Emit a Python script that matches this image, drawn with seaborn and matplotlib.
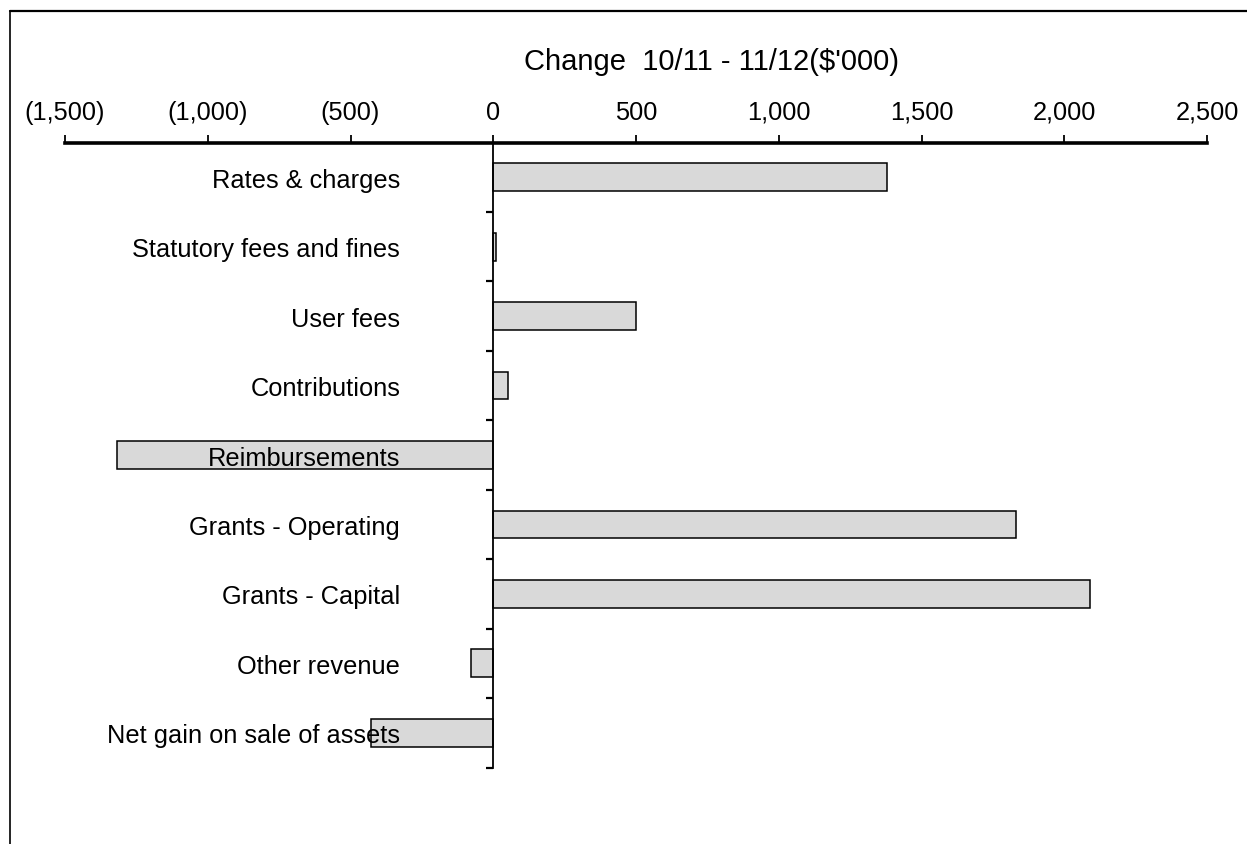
import matplotlib
matplotlib.use("Agg")
import matplotlib.pyplot as plt
from matplotlib.lines import Line2D
from matplotlib.ticker import FuncFormatter, FixedLocator
import seaborn as sns
import numpy as np

# Revenue categories and change between 2010/11 and 2011/12 ($'000)
categories = [
    "Rates & charges",
    "Statutory fees and fines",
    "User fees",
    "Contributions",
    "Reimbursements",
    "Grants - Operating",
    "Grants - Capital",
    "Other revenue",
    "Net gain on sale of assets",
]
change = [1380, 8, 500, 52, -1317, 1832, 2091, -77, -427]
x_ticks = [-1500, -1000, -500, 0, 500, 1000, 1500, 2000, 2500]
title = "Change  10/11 - 11/12($'000)"

sns.set_style("white")
plt.rcParams["font.family"] = ["Liberation Sans", "DejaVu Sans"]

W, H = 1247, 845
FS = 18.3
fig = plt.figure(figsize=(W / 100, H / 100), dpi=100)
ax = fig.add_axes([65 / W, 1 - 768.5 / H, (1207 - 65) / W, (768.5 - 143.5) / H])

sns.barplot(x=change, y=categories, orient="h", color="#d9d9d9",
            edgecolor="black", linewidth=1.1, width=0.4, saturation=1, ax=ax)
for bar in ax.patches:
    bar.set_zorder(1)

ax.set_xlim(x_ticks[0], x_ticks[-1])
ax.set_ylim(len(categories) - 0.5, -0.5)

# Value axis on top, formatted accounting style
ax.xaxis.tick_top()
ax.xaxis.set_label_position("top")
ax.set_xticks(x_ticks)
ax.xaxis.set_major_formatter(FuncFormatter(
    lambda v, p: f"({abs(v):,.0f})" if v < 0 else f"{v:,.0f}"))
ax.tick_params(axis="x", which="major", direction="out", length=5.5,
               width=1.3, pad=8, labelsize=FS, colors="black")
ax.set_xlabel("")
ax.set_ylabel("")

# Category axis sits on the zero line, tick marks between categories
for s in ["right", "bottom"]:
    ax.spines[s].set_visible(False)
ax.spines["top"].set_linewidth(2.6)
ax.spines["top"].set_color("black")
ax.spines["left"].set_position(("data", 0))
ax.spines["left"].set_linewidth(1.3)
ax.spines["left"].set_color("black")
ax.spines["left"].set_zorder(4)
ax.yaxis.set_minor_locator(FixedLocator(np.arange(0.5, len(categories), 1.0)))
ax.tick_params(axis="y", which="minor", direction="out", length=5, width=1.6,
               color="black", left=True)
ax.tick_params(axis="y", which="major", length=0, pad=67, labelsize=FS,
               colors="black")
ax.yaxis.set_zorder(5)

fig.text(712 / W, 1 - 62 / H, title, ha="center", va="center",
         fontsize=21, color="black")

# Outer frame lines
fig.add_artist(Line2D([9.5 / W, 1], [1 - 12 / H, 1 - 12 / H],
                      transform=fig.transFigure, color="black", lw=1.6))
fig.add_artist(Line2D([9.5 / W, 9.5 / W], [0, 1 - 12 / H],
                      transform=fig.transFigure, color="black", lw=1.2))

fig.savefig("out.png", dpi=100)
